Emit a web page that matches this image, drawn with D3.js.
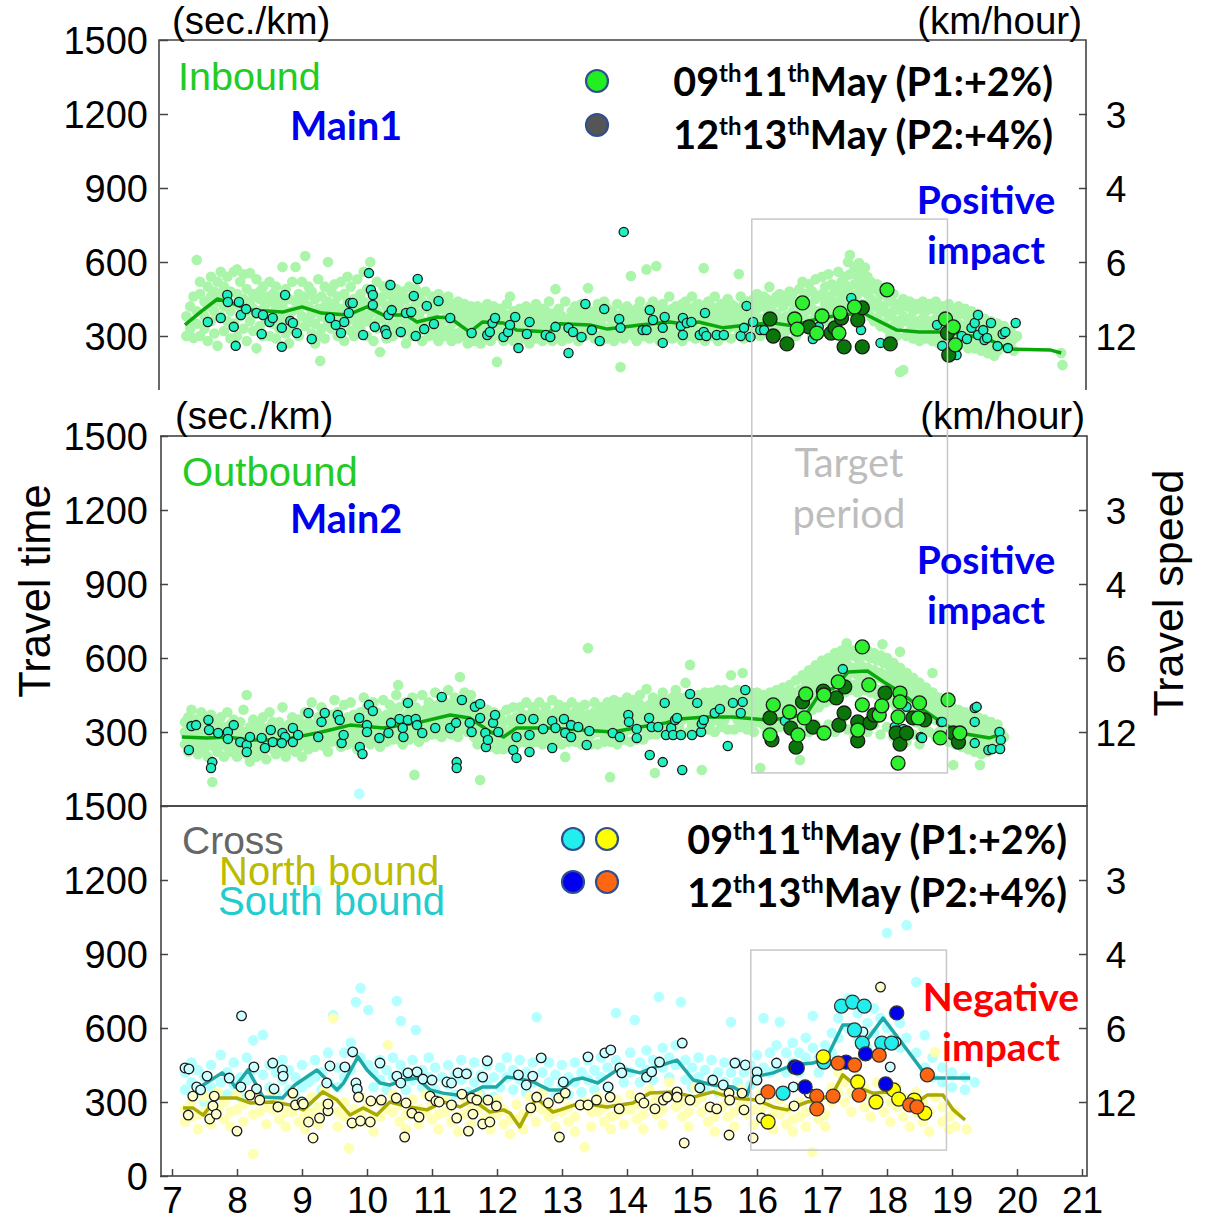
<!DOCTYPE html>
<html><head><meta charset="utf-8">
<script src="https://cdn.jsdelivr.net/npm/d3@7"></script>
<style>body{margin:0;background:#fff}svg{display:block}</style>
</head><body>
<svg id="c" width="1207" height="1222"></svg>
<script>
// ---------- DATA ----------
const hourTicks = [7,8,9,10,11,12,13,14,15,16,17,18,19,20,21];
const travelTimeTicks = [300,600,900,1200,1500];
const speedTicks = [3,4,6,12];           // km/hour  (= 3600 / sec per km)
const targetPeriod = [15.92, 18.93];

// Main1 (Inbound): background cloud [hour, [sec/km ...]]
const inCloud = [
[7.22,[300,380]],[7.28,[420,330]],[7.33,[292,460]],[7.38,[608,400,350]],[7.43,[470,300,520]],[7.5,[440,380,330]],[7.55,[500,280,420]],[7.6,[460,540,360]],[7.65,[310,480,400]],[7.7,[520,440,260]],[7.75,[560,380,470]],[7.8,[420,500,320]],[7.85,[540,360,450]],[7.9,[480,290,400]],[7.95,[560,430,350]],[8.0,[570,470,300]],[8.05,[520,380,420]],[8.1,[450,330,550]],[8.15,[400,490,280]],[8.2,[555,360,440]],[8.25,[470,320,410]],[8.3,[530,390,250]],[8.35,[450,340,480]],[8.4,[410,300,500]],[8.45,[460,370,430]],[8.5,[390,520,300]],[8.55,[440,350,470]],[8.6,[500,410,290]],[8.65,[380,460,330]],[8.7,[580,430,360]],[8.75,[490,310,400]],[8.8,[450,370,270]],[8.85,[520,400,330]],[8.9,[580,440,350]],[8.95,[470,300,410]],[9.0,[520,380,440]],[9.05,[624,460,340]],[9.1,[420,360,500]],[9.15,[480,310,390]],[9.2,[450,350,270]],[9.25,[530,410,300]],[9.28,[199]],[9.3,[460,380,330]],[9.35,[500,420,290]],[9.4,[600,440,360]],[9.45,[480,330,400]],[9.5,[430,370,510]],[9.55,[460,300,390]],[9.6,[520,410,340]],[9.65,[470,280,380]],[9.7,[440,360,540]],[9.75,[500,410,320]],[9.8,[450,380,300]],[9.85,[530,420,350]],[9.9,[470,330,400]],[9.95,[560,440,370]],[10.0,[490,360,300]],[10.05,[600,430,390]],[10.1,[470,350,280]],[10.15,[520,400,330]],[10.2,[440,235,370]],[10.25,[500,380,460]],[10.3,[420,340,290]],[10.35,[470,390,510]],[10.4,[440,350,300]],[10.45,[490,400,330]],[10.5,[430,370,460]],[10.55,[480,310,390]],[10.6,[450,350,270]],[10.65,[500,410,330]],[10.7,[460,380,300]],[10.75,[430,340,490]],[10.8,[470,390,320]],[10.85,[440,360,280]],[10.9,[480,410,330]],[10.95,[420,350,300]],[11.0,[460,380,320]],[11.05,[430,300,400]],[11.1,[470,360,280]],[11.15,[410,330,450]],[11.2,[440,370,300]],[11.25,[400,320,460]],[11.3,[430,350,280]],[11.35,[390,310,420]],[11.4,[440,360,290]],[11.45,[410,320,380]],[11.5,[370,300,430]],[11.55,[400,340,270]],[11.6,[360,300,420]],[11.65,[390,320,280]],[11.7,[350,420,300]],[11.75,[380,330,270]],[11.8,[400,340,290]],[11.85,[360,310,430]],[11.9,[390,330,280]],[11.95,[420,350,300]],[12.0,[195,380,330]],[12.05,[360,300,410]],[12.1,[390,340,280]],[12.15,[430,350,310]],[12.2,[370,300,460]],[12.25,[400,330,280]],[12.3,[380,340,300]],[12.35,[410,310,360]],[12.4,[350,290,390]],[12.45,[380,320,420]],[12.5,[360,300,270]],[12.55,[400,340,310]],[12.6,[370,290,430]],[12.65,[390,330,300]],[12.7,[360,280,410]],[12.75,[400,340,310]],[12.8,[370,300,440]],[12.85,[390,320,280]],[12.9,[360,490,330]],[12.95,[410,300,350]],[13.0,[380,320,280]],[13.05,[440,350,300]],[13.1,[370,330,290]],[13.15,[400,350,310]],[13.2,[360,300,420]],[13.25,[390,340,280]],[13.3,[370,310,430]],[13.35,[400,350,300]],[13.4,[494,380,330]],[13.45,[360,310,400]],[13.5,[390,340,290]],[13.55,[370,300,430]],[13.6,[400,350,280]],[13.65,[380,320,440]],[13.7,[410,330,290]],[13.75,[370,300,400]],[13.8,[390,340,280]],[13.85,[360,310,430]],[13.9,[174,380,330]],[13.95,[400,350,290]],[14.0,[370,310,420]],[14.06,[543,390,330]],[14.1,[360,300,400]],[14.15,[410,340,280]],[14.2,[380,320,440]],[14.25,[400,350,300]],[14.3,[570,370,330]],[14.35,[420,360,290]],[14.4,[390,320,440]],[14.45,[584,360,300]],[14.5,[410,340,280]],[14.55,[380,330,430]],[14.6,[400,350,300]],[14.65,[370,310,460]],[14.7,[410,340,290]],[14.75,[380,320,420]],[14.8,[400,350,300]],[14.85,[430,360,280]],[14.9,[390,320,440]],[14.95,[410,340,300]],[15.0,[380,330,460]],[15.05,[420,360,290]],[15.1,[390,320,430]],[15.18,[575,370,330]],[15.2,[410,340,280]],[15.25,[380,310,440]],[15.3,[420,360,300]],[15.35,[390,330,460]],[15.4,[410,350,280]],[15.45,[380,320,430]],[15.5,[420,360,300]],[15.55,[400,330,450]],[15.6,[430,370,290]],[15.65,[390,340,420]],[15.72,[551,380,310]],[15.75,[410,350,460]],[15.8,[430,370,290]],[15.85,[400,340,440]],[15.9,[420,360,300]],[15.95,[450,380,330]],[16.0,[410,350,470]],[16.05,[440,370,300]],[16.1,[420,360,460]],[16.15,[450,380,320]],[16.19,[499,400,340]],[16.25,[430,370,290]],[16.3,[460,390,330]],[16.35,[440,360,470]],[16.4,[420,350,300]],[16.45,[460,380,320]],[16.5,[440,370,480]],[16.55,[470,400,340]],[16.6,[430,360,300]],[16.65,[490,410,350]],[16.7,[450,380,520]],[16.75,[470,400,330]],[16.8,[510,430,360]],[16.85,[480,410,300]],[16.9,[530,450,380]],[16.95,[460,400,340]],[17.0,[540,470,390]],[17.05,[500,430,360]],[17.1,[550,460,400]],[17.15,[510,440,380]],[17.2,[480,420,340]],[17.25,[560,500,440]],[17.3,[520,460,390]],[17.35,[540,470,410]],[17.4,[600,500,430]],[17.43,[628,550,470]],[17.5,[580,510,440]],[17.55,[540,470,400]],[17.57,[596,520,360]],[17.62,[560,490,430]],[17.66,[578,500,420]],[17.7,[540,470,400]],[17.75,[520,450,380]],[17.8,[490,420,360]],[17.85,[510,440,370]],[17.9,[470,400,340]],[17.95,[490,420,350]],[18.0,[460,390,330]],[18.05,[440,380,300]],[18.1,[470,400,340]],[18.15,[430,360,300]],[18.2,[154,410,350]],[18.25,[162,450,380]],[18.3,[420,360,300]],[18.35,[440,370,320]],[18.4,[400,340,290]],[18.45,[430,360,310]],[18.5,[410,350,280]],[18.55,[440,370,310]],[18.6,[400,330,290]],[18.65,[430,360,300]],[18.7,[410,340,280]],[18.75,[440,370,310]],[18.8,[400,330,270]],[18.85,[420,350,300]],[18.9,[390,330,280]],[18.95,[430,360,300]],[19.0,[400,340,270]],[19.05,[380,320,290]],[19.1,[420,350,260]],[19.15,[390,330,280]],[19.2,[410,340,270]],[19.25,[370,310,250]],[19.3,[400,330,280]],[19.35,[360,300,250]],[19.4,[390,320,270]],[19.45,[350,290,240]],[19.5,[370,310,260]],[19.55,[340,280,230]],[19.6,[360,300,250]],[19.65,[330,270,220]],[19.7,[350,290,240]],[19.75,[320,260]],[19.8,[340,280]],[19.85,[300,250]],[19.9,[320,270]],[19.95,[290,240]],[20.0,[300]],[20.68,[231]],[20.7,[182]]
];
const inBase = [[7.55,357],[7.75,373],[7.85,466],[7.86,438],[7.95,337],[7.98,260],[8.03,438],[8.06,385],[8.14,409],[8.3,393],[8.38,308],[8.4,385],[8.5,357],[8.55,373],[8.69,333],[8.69,256],[8.74,466],[8.82,361],[8.86,353],[8.92,312],[9.15,288],[9.43,373],[9.52,345],[9.6,312],[9.65,357],[9.72,393],[9.74,434],[9.78,434],[9.94,304],[10.03,555],[10.06,487],[10.09,466],[10.09,426],[10.12,337],[10.28,324],[10.3,308],[10.33,385],[10.36,507],[10.38,405],[10.52,316],[10.6,393],[10.68,397],[10.72,462],[10.75,300],[10.78,531],[10.88,328],[10.92,422],[11.03,349],[11.1,442],[11.28,373],[11.61,312],[11.85,304],[11.89,316],[11.93,353],[11.97,373],[12.1,296],[12.17,316],[12.2,345],[12.28,377],[12.33,251],[12.46,308],[12.5,357],[12.75,304],[12.82,296],[12.9,337],[13.1,231],[13.1,333],[13.17,316],[13.3,296],[13.36,430],[13.46,324],[13.58,280],[13.65,409],[13.88,369],[13.9,333],[13.95,722],[14.24,324],[14.3,324],[14.35,405],[14.4,365],[14.55,272],[14.55,333],[14.58,377],[14.83,341],[14.86,373],[14.86,304],[14.92,353],[14.99,357],[15.12,304],[15.18,316],[15.2,393],[15.22,300],[15.38,304],[15.49,304],[15.75,300],[15.8,333],[15.84,422],[15.9,296],[15.94,357],[16.05,324],[16.11,324],[16.86,288],[16.95,337],[17.45,454],[17.6,324],[17.9,272],[18.77,345],[18.85,260],[19.07,223],[19.15,300],[19.23,288],[19.3,333],[19.35,353],[19.4,385],[19.4,304],[19.48,324],[19.5,284],[19.54,292],[19.6,353],[19.7,259],[19.78,308],[19.82,316],[19.86,251],[19.98,353]];
const inP1 = [[16.58,369],[16.62,328],[16.7,434],[16.92,312],[17.0,381],[17.26,312],[17.28,393],[17.5,418],[18.0,487],[18.9,369],[19.02,337],[19.05,264]];
const inP2 = [[16.2,369],[16.25,300],[16.46,268],[16.8,337],[17.14,312],[17.2,333],[17.3,373],[17.34,256],[17.55,365],[17.62,414],[17.62,256],[18.05,268],[18.93,312],[18.95,223]];
const inTrend = [[7.2,345],[7.45,400],[7.7,450],[7.9,435],[8.2,405],[8.7,397],[9.0,418],[9.3,393],[9.7,385],[10.0,418],[10.25,385],[10.6,385],[10.77,357],[11.08,377],[11.28,373],[11.58,316],[11.78,357],[12.1,353],[12.3,324],[12.8,316],[12.97,350],[13.43,345],[13.7,328],[14.2,345],[14.66,357],[14.97,345],[15.1,357],[15.48,333],[15.85,345],[16.25,353],[16.55,341],[16.92,369],[17.28,385],[17.63,393],[18.15,324],[18.5,316],[18.92,316],[19.3,300],[19.58,284],[19.87,247],[20.52,243],[20.68,231]];

// Main2 (Outbound)
const outCloud = [
[7.2,[300,250,340]],[7.25,[280,360,220]],[7.3,[320,260,390]],[7.35,[240,300,350]],[7.4,[330,270,210]],[7.45,[290,380,250]],[7.5,[350,230,310]],[7.55,[270,330,200]],[7.6,[310,260,370]],[7.62,[97]],[7.65,[240,300,350]],[7.7,[330,270,220]],[7.75,[290,360,250]],[7.8,[260,320,200]],[7.85,[300,240,380]],[7.9,[330,270,220]],[7.95,[280,350,250]],[8.0,[310,260,200]],[8.05,[270,340,230]],[8.1,[300,250,390]],[8.15,[450,280,210]],[8.2,[320,260,180]],[8.25,[290,350,230]],[8.3,[260,310,200]],[8.35,[330,270,240]],[8.4,[290,360,220]],[8.45,[250,310,190]],[8.5,[320,270,380]],[8.55,[280,340,230]],[8.6,[300,250,210]],[8.65,[340,280,230]],[8.7,[270,320,400]],[8.75,[300,250,200]],[8.8,[330,270,230]],[8.85,[290,360,240]],[8.9,[310,260,220]],[8.95,[350,290,240]],[9.0,[280,330,200]],[9.05,[310,260,380]],[9.1,[340,290,230]],[9.15,[300,260,420]],[9.2,[330,280,240]],[9.25,[360,300,250]],[9.3,[320,270,400]],[9.35,[350,300,240]],[9.4,[310,270,220]],[9.45,[370,320,260]],[9.5,[340,290,430]],[9.55,[310,260,380]],[9.6,[350,300,240]],[9.65,[320,280,410]],[9.7,[360,310,250]],[9.75,[330,280,420]],[9.8,[370,320,260]],[9.85,[340,290,230]],[9.9,[380,330,270]],[9.95,[350,300,440]],[10.0,[320,270,400]],[10.05,[360,310,250]],[10.1,[340,290,420]],[10.15,[380,330,270]],[10.2,[350,300,240]],[10.25,[320,280,430]],[10.3,[370,320,260]],[10.35,[340,290,410]],[10.4,[380,330,270]],[10.45,[350,300,450]],[10.48,[490]],[10.5,[320,270,400]],[10.55,[360,310,250]],[10.6,[340,290,420]],[10.65,[380,330,270]],[10.7,[350,300,440]],[10.73,[126]],[10.75,[330,280,400]],[10.8,[370,320,260]],[10.85,[350,300,450]],[10.9,[390,340,280]],[10.95,[360,310,420]],[11.0,[400,350,290]],[11.05,[370,320,460]],[11.1,[340,290,410]],[11.15,[390,340,280]],[11.2,[420,360,300]],[11.25,[380,330,470]],[11.3,[410,350,290]],[11.35,[440,380,320]],[11.4,[400,340,280]],[11.43,[523]],[11.45,[430,370,310]],[11.5,[390,330,460]],[11.55,[420,360,300]],[11.6,[380,320,450]],[11.65,[410,350,280]],[11.7,[370,310,250]],[11.74,[105]],[11.75,[340,290,400]],[11.8,[370,310,250]],[11.85,[330,280,390]],[11.9,[360,300,240]],[11.95,[320,270,380]],[12.0,[350,290,230]],[12.05,[310,260,370]],[12.1,[340,290,230]],[12.15,[300,250,390]],[12.2,[350,290,240]],[12.25,[320,270,400]],[12.3,[360,300,250]],[12.35,[330,280,400]],[12.4,[370,310,260]],[12.45,[340,290,420]],[12.5,[370,310,250]],[12.55,[340,290,400]],[12.6,[380,320,260]],[12.65,[350,290,420]],[12.7,[370,310,250]],[12.75,[340,280,400]],[12.8,[370,310,260]],[12.85,[340,290,430]],[12.9,[380,320,260]],[12.95,[350,290,410]],[13.0,[370,310,250]],[13.05,[199,340,400]],[13.1,[370,310,260]],[13.15,[340,290,420]],[13.2,[380,320,260]],[13.25,[350,290,400]],[13.3,[370,310,250]],[13.35,[340,280,410]],[13.4,[640,370]],[13.45,[340,290,250]],[13.5,[380,320,420]],[13.55,[350,300,250]],[13.6,[380,320,400]],[13.65,[350,290,260]],[13.7,[380,330,420]],[13.74,[117]],[13.75,[350,300,260]],[13.8,[390,330,430]],[13.85,[360,300,250]],[13.9,[390,340,420]],[13.95,[360,300,270]],[14.0,[400,340,440]],[14.05,[370,310,260]],[14.1,[400,350,430]],[14.15,[370,320,270]],[14.2,[410,350,450]],[14.25,[380,330,270]],[14.3,[474,360,300]],[14.35,[410,350,290]],[14.4,[440,380,320]],[14.43,[134]],[14.45,[400,350,290]],[14.5,[430,370,310]],[14.55,[400,340,460]],[14.6,[430,370,310]],[14.65,[400,350,290]],[14.7,[440,380,320]],[14.75,[410,350,470]],[14.8,[440,380,320]],[14.85,[410,350,290]],[14.9,[499,440,380]],[14.95,[420,360,300]],[14.97,[572]],[15.0,[450,390,330]],[15.05,[420,360,300]],[15.1,[450,390,330]],[15.15,[146,420,360]],[15.2,[460,400,340]],[15.25,[430,370,310]],[15.3,[460,400,340]],[15.35,[430,370,300]],[15.4,[470,410,350]],[15.45,[440,380,320]],[15.5,[470,410,350]],[15.55,[440,380,310]],[15.6,[530,460,400]],[15.65,[430,370,310]],[15.7,[470,410,350]],[15.75,[440,380,320]],[15.78,[539]],[15.8,[460,400,340]],[15.85,[430,370,310]],[15.9,[460,400,340]],[15.95,[430,370,300]],[16.0,[460,400,340]],[16.05,[154,420,360]],[16.1,[450,390,330]],[16.15,[420,360,300]],[16.2,[460,400,340]],[16.25,[430,370,310]],[16.3,[470,410,350]],[16.35,[440,380,320]],[16.4,[480,420,360]],[16.45,[450,390,330]],[16.5,[490,430,370]],[16.55,[460,400,340]],[16.6,[510,440,380,300]],[16.66,[186,470,400]],[16.7,[530,460,390,320]],[16.75,[500,430,370]],[16.8,[550,480,410,300]],[16.85,[520,450,390]],[16.9,[570,500,430,330]],[16.95,[540,470,400]],[17.0,[590,520,450,290]],[17.05,[560,490,420]],[17.1,[600,530,460,330]],[17.15,[570,500,430]],[17.2,[620,550,480,300]],[17.25,[590,520,450]],[17.3,[630,560,490,350]],[17.35,[600,530,460]],[17.38,[660]],[17.4,[640,570,500,310]],[17.45,[610,540,470]],[17.5,[630,560,490,280]],[17.55,[600,530,460]],[17.6,[640,570,500,340]],[17.65,[610,540,470]],[17.7,[630,560,490,300]],[17.75,[600,530,460]],[17.8,[620,550,480,330]],[17.85,[590,520,450]],[17.9,[610,540,470,290]],[17.93,[656]],[17.95,[580,510,440]],[18.0,[600,530,460,320]],[18.05,[560,490,420]],[18.1,[580,510,440,280]],[18.15,[540,470,400]],[18.2,[625,560,490,300]],[18.25,[520,450,380]],[18.3,[540,470,400,260]],[18.35,[500,430,360]],[18.4,[520,450,380,290]],[18.45,[480,410,340]],[18.5,[500,430,360,250]],[18.55,[460,390,320]],[18.6,[480,410,340]],[18.65,[440,370,300]],[18.7,[539,460,390]],[18.75,[420,350,280]],[18.8,[440,370,300]],[18.85,[400,330,270]],[18.9,[420,350,290]],[18.95,[380,320,260]],[19.0,[400,340,280]],[19.02,[166]],[19.05,[370,310,250]],[19.1,[390,330,270]],[19.15,[360,300,240]],[19.2,[380,320,260]],[19.25,[350,290,230]],[19.3,[370,310,250]],[19.35,[340,280,220]],[19.4,[360,300,240]],[19.43,[166]],[19.45,[330,270,210]],[19.5,[350,290,240]],[19.55,[320,260,220]],[19.6,[340,280,230]],[19.65,[310,260]],[19.7,[330,270]],[19.75,[300,250]],[19.8,[280]]
];
const outBase = [[7.26,227],[7.3,324],[7.37,328],[7.56,349],[7.57,308],[7.62,178],[7.6,154],[7.71,296],[7.86,300],[7.86,272],[7.95,328],[8.05,259],[8.15,247],[8.15,219],[8.2,280],[8.38,276],[8.43,235],[8.52,308],[8.55,259],[8.7,296],[8.74,280],[8.69,255],[8.86,316],[8.86,259],[8.94,288],[9.1,377],[9.25,280],[9.3,341],[9.35,377],[9.55,369],[9.58,349],[9.61,255],[9.64,288],[9.88,357],[9.89,239],[9.93,211],[10.0,328],[10.0,300],[10.03,410],[10.09,385],[10.19,276],[10.33,296],[10.37,337],[10.5,353],[10.55,316],[10.56,280],[10.63,418],[10.63,349],[10.75,353],[10.77,328],[10.85,296],[11.05,316],[11.15,442],[11.28,316],[11.37,337],[11.38,178],[11.38,154],[11.46,430],[11.58,337],[11.61,300],[11.66,402],[11.74,414],[11.74,357],[11.82,296],[11.83,239],[11.86,268],[11.94,337],[11.97,369],[12.02,300],[12.25,227],[12.3,195],[12.3,280],[12.37,353],[12.5,288],[12.5,219],[12.56,353],[12.71,312],[12.85,345],[12.85,235],[12.9,316],[13.03,353],[13.05,296],[13.14,328],[13.14,280],[13.25,320],[13.38,247],[13.42,304],[13.78,296],[13.89,280],[14.02,369],[14.03,341],[14.15,312],[14.15,276],[14.34,357],[14.35,207],[14.38,320],[14.48,320],[14.55,178],[14.58,418],[14.6,288],[14.68,316],[14.71,288],[14.74,349],[14.77,357],[14.83,288],[14.85,146],[14.97,454],[15.0,288],[15.08,418],[15.14,300],[15.15,333],[15.18,349],[15.35,377],[15.43,393],[15.55,243],[15.63,418],[15.75,377],[15.78,422],[15.82,470],[16.43,345],[17.32,555],[18.12,320],[18.25,312],[18.3,402],[18.52,280],[18.54,276],[18.83,341],[18.85,341],[19.35,397],[19.35,341],[19.35,255],[19.38,402],[19.56,227],[19.62,231],[19.73,300],[19.75,268],[19.74,231]];
const outP1 = [[16.2,288],[16.25,410],[16.5,381],[16.63,288],[16.73,357],[16.75,454],[17.03,296],[17.03,450],[17.25,503],[17.55,308],[17.62,645],[17.62,410],[17.72,491],[17.88,369],[17.92,406],[18.17,174],[18.17,361],[18.2,458],[18.2,422],[18.48,357],[18.5,418],[18.82,276],[18.94,430],[19.12,296]];
const outP2 = [[16.2,357],[16.23,268],[16.52,316],[16.6,239],[16.7,422],[16.86,320],[17.02,466],[17.22,438],[17.26,328],[17.34,377],[17.35,483],[17.55,341],[17.55,264],[17.74,337],[17.8,369],[17.97,458],[18.14,296],[18.2,251],[18.3,296],[18.4,357],[18.58,349],[19.02,296],[19.1,259]];
const outTrend = [[7.15,280],[7.54,276],[7.85,280],[8.2,268],[8.7,268],[9.23,296],[9.43,308],[9.74,328],[10.25,316],[10.77,337],[11.28,369],[11.58,357],[11.9,300],[12.1,280],[12.3,316],[12.8,316],[13.3,308],[13.78,300],[14.2,320],[14.6,337],[14.8,353],[15.22,361],[15.63,361],[16.15,349],[16.5,357],[16.77,377],[16.97,458],[17.18,478],[17.4,543],[17.7,547],[17.95,503],[18.2,462],[18.56,389],[18.83,341],[19.12,296],[19.58,276],[19.72,288]];

// Cross (South bound / North bound)
const southCloud = [
[7.2,[420,350]],[7.3,[380,460]],[7.4,[340,430]],[7.5,[400,300]],[7.6,[450,360]],[7.75,[491,380]],[7.85,[420,330]],[7.95,[460,370]],[8.05,[400,320]],[8.15,[480,390]],[8.25,[550,430]],[8.4,[572,410]],[8.5,[360,450]],[8.6,[420,330]],[8.7,[390,470]],[8.8,[350,430]],[8.9,[400,320]],[9.0,[450,360]],[9.1,[380,300]],[9.2,[470,400]],[9.23,[1155]],[9.3,[420,350]],[9.4,[500,380]],[9.48,[652]],[9.55,[440,360]],[9.65,[500,400]],[9.75,[540,430]],[9.83,[705]],[9.88,[1550]],[9.9,[762,480]],[10.02,[673,450]],[10.1,[420,360]],[10.2,[470,390]],[10.3,[430,350]],[10.4,[480,400]],[10.46,[709]],[10.52,[628,450]],[10.6,[420,350]],[10.7,[470,390]],[10.75,[592]],[10.85,[430,360]],[10.95,[480,400]],[11.05,[440,350]],[11.15,[400,320]],[11.25,[450,370]],[11.35,[410,330]],[11.45,[470,390]],[11.55,[420,340]],[11.65,[460,380]],[11.75,[410,330]],[11.85,[450,370]],[11.95,[400,320]],[12.05,[440,360]],[12.15,[480,400]],[12.25,[430,350]],[12.35,[470,390]],[12.45,[420,340]],[12.55,[460,380]],[12.61,[644]],[12.7,[420,340]],[12.8,[460,380]],[12.9,[410,330]],[13.0,[450,370]],[13.1,[400,330]],[13.2,[460,380]],[13.3,[420,340]],[13.4,[470,390]],[13.5,[430,350]],[13.6,[480,400]],[13.7,[440,360]],[13.83,[661,470]],[13.95,[430,380]],[14.05,[500,420]],[14.12,[632]],[14.2,[460,380]],[14.3,[510,430]],[14.4,[470,390]],[14.49,[726]],[14.55,[520,440]],[14.65,[480,400]],[14.75,[530,450]],[14.83,[705]],[14.9,[470,390]],[15.0,[440,360]],[15.1,[480,400]],[15.2,[430,350]],[15.3,[470,390]],[15.4,[420,340]],[15.5,[460,380]],[15.6,[624,420]],[15.7,[460,380]],[15.8,[420,340]],[15.9,[450,370]],[16.0,[490,410]],[16.1,[640,440]],[16.2,[500,420]],[16.3,[530,450]],[16.35,[624]],[16.45,[500,420]],[16.55,[540,460]],[16.65,[500,420]],[16.75,[560,480]],[16.86,[649,520]],[16.95,[480,420]],[17.05,[530,460]],[17.15,[580,500]],[17.25,[640,560]],[17.4,[720,600]],[17.55,[660,560]],[17.63,[584]],[17.7,[620,520]],[17.8,[680,580]],[17.9,[640,540]],[18.0,[985,600]],[18.1,[660,560]],[18.2,[620,520]],[18.3,[1017,560]],[18.45,[786,500]],[18.58,[571,440]],[18.7,[480,400]],[18.85,[440,380]],[19.0,[420,360]],[19.2,[400,350]],[19.35,[380]]
];
const northCloud = [
[7.2,[270,220]],[7.3,[300,240]],[7.4,[250,190]],[7.5,[320,260]],[7.6,[280,210]],[7.7,[340,270]],[7.8,[300,230]],[7.9,[260,200]],[8.0,[330,270]],[8.1,[290,220]],[8.25,[89,250]],[8.35,[320,260]],[8.45,[280,210]],[8.55,[340,270]],[8.65,[300,230]],[8.75,[260,200]],[8.85,[330,260]],[8.95,[290,220]],[9.05,[250,190]],[9.15,[320,260]],[9.25,[280,210]],[9.35,[350,290]],[9.48,[640,310]],[9.55,[260,200]],[9.65,[300,240]],[9.72,[113]],[9.8,[270,210]],[9.9,[320,250]],[10.0,[280,220]],[10.1,[240,180]],[10.2,[300,240]],[10.32,[531,270]],[10.4,[330,260]],[10.5,[290,220]],[10.6,[250,190]],[10.7,[310,250]],[10.8,[270,210]],[10.9,[330,260]],[11.0,[290,230]],[11.1,[250,190]],[11.2,[320,260]],[11.3,[280,220]],[11.4,[240,180]],[11.5,[310,250]],[11.6,[270,210]],[11.7,[330,270]],[11.8,[290,230]],[11.9,[250,190]],[12.0,[310,250]],[12.1,[270,210]],[12.2,[230,170]],[12.3,[290,230]],[12.4,[250,190]],[12.5,[320,260]],[12.6,[280,220]],[12.7,[340,270]],[12.8,[300,240]],[12.9,[260,200]],[13.0,[320,260]],[13.1,[280,220]],[13.2,[240,180]],[13.35,[117,300]],[13.45,[260,200]],[13.55,[320,260]],[13.65,[280,220]],[13.75,[240,190]],[13.85,[310,250]],[13.95,[270,210]],[14.05,[330,270]],[14.15,[290,230]],[14.25,[250,190]],[14.35,[350,290]],[14.45,[310,250]],[14.55,[270,210]],[14.65,[380,320]],[14.75,[340,280]],[14.85,[300,240]],[14.95,[260,200]],[15.05,[360,300]],[15.15,[320,260]],[15.25,[280,220]],[15.35,[240,180]],[15.45,[340,280]],[15.55,[300,240]],[15.65,[260,200]],[15.75,[350,290]],[15.85,[310,250]],[15.95,[270,210]],[16.05,[330,270]],[16.15,[290,230]],[16.25,[250,190]],[16.35,[310,250]],[16.45,[270,210]],[16.55,[230,180]],[16.65,[300,240]],[16.75,[260,200]],[16.85,[97,330]],[16.95,[290,230]],[17.05,[250,200]],[17.15,[360,300]],[17.25,[420,340]],[17.35,[380,300]],[17.45,[340,260]],[17.55,[400,320]],[17.65,[360,280]],[17.75,[320,240]],[17.85,[380,300]],[17.95,[340,260]],[18.05,[300,220]],[18.15,[360,280]],[18.25,[320,240]],[18.35,[280,200]],[18.45,[340,260]],[18.55,[300,220]],[18.65,[260,180]],[18.74,[503,320]],[18.85,[280,220]],[18.95,[240,190]],[19.05,[260,200]],[19.23,[190]]
];
const southBase = [[7.2,438],[7.26,434],[7.38,361],[7.44,349],[7.54,405],[7.88,397],[8.06,361],[8.07,649],[8.26,442],[8.3,353],[8.55,458],[8.57,353],[8.7,430],[8.71,405],[9.38,377],[9.43,446],[9.66,442],[9.78,503],[9.83,377],[9.85,353],[10.2,458],[10.46,405],[10.52,377],[10.63,418],[10.77,422],[10.86,393],[11.0,389],[11.23,381],[11.3,377],[11.4,418],[11.53,414],[11.78,401],[11.85,467],[12.33,410],[12.45,369],[12.55,405],[12.68,479],[13.02,381],[13.4,483],[13.66,499],[13.75,511],[13.71,361],[13.89,438],[13.92,418],[14.3,401],[14.38,422],[14.5,462],[14.85,539],[15.12,357],[15.32,389],[15.48,369],[15.66,458],[15.82,450],[16.0,422],[16.0,389],[16.3,458],[16.56,361],[17.63,584],[18.05,442],[18.14,543]];
const northBase = [[7.25,247],[7.32,324],[7.58,231],[7.63,284],[7.65,324],[7.68,251],[8.0,182],[8.2,328],[8.35,308],[8.63,280],[8.86,336],[8.9,288],[9.0,300],[9.02,292],[9.1,219],[9.17,154],[9.27,235],[9.4,264],[9.4,292],[9.77,215],[9.87,320],[9.9,223],[10.05,219],[10.06,304],[10.22,308],[10.45,316],[10.58,158],[10.6,296],[10.69,255],[10.8,239],[10.97,324],[11.06,304],[11.11,300],[11.3,288],[11.38,235],[11.46,332],[11.56,182],[11.61,316],[11.63,251],[11.69,308],[11.78,211],[11.86,308],[11.89,219],[11.99,284],[12.52,276],[12.61,320],[12.79,296],[12.95,316],[12.96,158],[13.05,336],[13.28,288],[13.4,288],[13.53,308],[13.74,320],[13.88,272],[14.2,316],[14.26,296],[14.43,272],[14.56,308],[14.62,320],[14.77,341],[14.88,134],[14.77,320],[14.97,308],[15.28,280],[15.38,272],[15.57,336],[15.58,308],[15.57,166],[15.77,336],[15.8,268],[15.94,154],[16.05,312],[16.07,235],[16.57,284],[16.8,336],[17.9,766]];
const southP1 = [[16.4,336],[17.03,462],[17.3,689],[17.47,705],[17.65,689],[17.5,592],[17.62,539],[17.92,539],[18.07,539]];
const northP1 = [[16.17,219],[17.02,483],[17.55,381],[17.83,300],[18.1,349],[18.18,312],[18.42,308],[18.58,255]];
const southP2 = [[16.58,442],[16.62,438],[16.74,361],[17.37,462],[17.67,495],[17.98,373],[18.15,661]];
const northP2 = [[16.17,341],[16.92,324],[16.92,272],[17.17,324],[17.25,458],[17.5,450],[17.57,328],[17.88,490],[18.35,288],[18.46,280],[18.62,410]];
const southTrend = [[7.43,361],[7.77,418],[7.9,389],[7.97,361],[8.17,430],[8.4,320],[8.7,316],[8.89,369],[9.23,430],[9.54,349],[9.64,377],[9.86,483],[10.0,430],[10.2,377],[10.35,369],[10.56,389],[10.77,397],[10.97,349],[11.17,336],[11.38,328],[11.58,336],[11.78,361],[11.99,361],[12.15,401],[12.3,397],[12.56,381],[12.8,349],[13.0,349],[13.17,389],[13.32,397],[13.55,377],[13.89,438],[14.2,418],[14.4,438],[14.77,470],[15.02,389],[15.32,369],[15.63,361],[15.85,328],[15.94,401],[16.25,418],[16.55,450],[16.86,458],[17.07,478],[17.32,612],[17.51,612],[17.69,551],[17.94,640],[18.23,539],[18.56,422],[18.71,397],[19.28,397]];
const northTrend = [[7.17,276],[7.32,276],[7.48,247],[7.69,316],[8.0,316],[8.2,296],[8.55,300],[8.82,288],[9.02,268],[9.32,341],[9.54,308],[9.74,247],[9.94,276],[10.15,247],[10.35,300],[10.66,280],[10.92,268],[11.17,300],[11.43,280],[11.63,308],[11.89,259],[12.1,268],[12.2,255],[12.35,199],[12.46,255],[12.61,316],[12.86,259],[12.97,268],[13.28,296],[13.69,280],[14.09,296],[14.35,336],[14.71,341],[15.02,320],[15.32,341],[15.63,316],[16.0,308],[16.25,280],[16.46,268],[16.77,300],[16.97,308],[17.17,336],[17.32,410],[17.54,361],[17.78,336],[18.0,341],[18.2,308],[18.51,308],[18.62,328],[18.86,328],[19.02,268],[19.2,227]];

// ---------- DRAW ----------
const svg = d3.select("#c");
const ARIAL = "'Liberation Sans', Arial, sans-serif";
const CALIBRI = "Lato, 'Open Sans', sans-serif";
const x = d3.scaleLinear().domain([7, 21]).range([172, 1082]);
const X0 = 160, X1 = 1087;
const panels = [
  {y: d3.scaleLinear().domain([0,1500]).range([410,40]),  top:40,  bottom:390, frame:"open"},
  {y: d3.scaleLinear().domain([0,1500]).range([806,436]), top:436, bottom:806, frame:"box"},
  {y: d3.scaleLinear().domain([0,1500]).range([1176,806]),top:806, bottom:1176, frame:"box"}
];
const flat = c => c.flatMap(([h, vs]) => vs.map(v => [h, v]));

function dots(g, y, data, r, fill, stroke, sw) {
  g.append("g").selectAll("circle").data(data).join("circle")
    .attr("cx", d => x(d[0])).attr("cy", d => y(d[1])).attr("r", r)
    .attr("fill", fill).attr("stroke", stroke || "none").attr("stroke-width", sw || 0);
}
function trend(g, y, data, color) {
  g.append("path").datum(data)
    .attr("d", d3.line().x(d => x(d[0])).y(d => y(d[1])))
    .attr("fill", "none").attr("stroke", color).attr("stroke-width", 3.5)
    .attr("stroke-linejoin", "round");
}

panels.forEach((p, i) => {
  const g = svg.append("g");
  const la = g.append("g").attr("transform", `translate(${X0},0)`)
    .call(d3.axisLeft(p.y).tickValues(i === 2 ? [0, ...travelTimeTicks] : travelTimeTicks)
      .tickSize(-8).tickPadding(12).tickFormat(d3.format("d")));
  la.select(".domain").remove();
  la.selectAll("text").attr("font-size", 38).attr("font-family", ARIAL).attr("fill", "#000").attr("dy", "0.36em");
  la.selectAll("line").attr("stroke", "#444").attr("stroke-width", 1.5);
  const ra = g.append("g").attr("transform", `translate(${X1},0)`)
    .call(d3.axisRight(p.y).tickValues(speedTicks.map(s => 3600 / s))
      .tickSize(-8).tickFormat(v => Math.round(3600 / v)));
  ra.select(".domain").remove();
  ra.selectAll("text").attr("font-size", 37).attr("font-family", ARIAL).attr("fill", "#000")
    .attr("text-anchor", "middle").attr("x", 29).attr("dy", "0.36em");
  ra.selectAll("line").attr("stroke", "#444").attr("stroke-width", 1.5);
  if (p.frame === "open") {
    g.append("path").attr("d", `M${X0-1},${p.bottom}V${p.top}H${X1-1}V${p.bottom}`)
      .attr("fill", "none").attr("stroke", "#444").attr("stroke-width", 1.6);
  } else {
    g.append("rect").attr("x", X0 + 1).attr("y", p.top).attr("width", X1 - X0 - 1).attr("height", p.bottom - p.top)
      .attr("fill", "none").attr("stroke", "#444").attr("stroke-width", 1.6);
  }
  p.g = g;
});

const ba = svg.append("g").attr("transform", `translate(0,1176)`)
  .call(d3.axisBottom(x).tickValues(hourTicks).tickSize(-7).tickPadding(11).tickFormat(d3.format("d")));
ba.select(".domain").remove();
ba.selectAll("text").attr("font-size", 37).attr("font-family", ARIAL).attr("fill", "#000");
ba.selectAll("line").attr("stroke", "#444").attr("stroke-width", 1.5);

const [p1, p2, p3] = panels;
svg.append("rect").attr("x", x(targetPeriod[0])).attr("width", x(targetPeriod[1]) - x(targetPeriod[0]))
  .attr("y", p1.y(774)).attr("height", p2.y(134) - p1.y(774))
  .attr("fill", "none").attr("stroke", "#c8c8c8").attr("stroke-width", 1.5);
svg.append("rect").attr("x", x(targetPeriod[0]) - 1).attr("width", x(targetPeriod[1]) - x(targetPeriod[0]))
  .attr("y", p3.y(916)).attr("height", p3.y(105) - p3.y(916))
  .attr("fill", "none").attr("stroke", "#c8c8c8").attr("stroke-width", 1.5);

dots(p1.g, p1.y, flat(inCloud), 5.3, "#abf5ab");
trend(p1.g, p1.y, inTrend, "#0aa80a");
dots(p1.g, p1.y, inBase, 4.6, "#1ff0bf", "#1a1a1a", 1.3);
dots(p1.g, p1.y, inP2, 7, "#0a760a", "#1a1a1a", 1.3);
dots(p1.g, p1.y, inP1, 7, "#2ef02e", "#1a1a1a", 1.3);
dots(p2.g, p2.y, flat(outCloud), 5.3, "#abf5ab");
trend(p2.g, p2.y, outTrend, "#0aa80a");
dots(p2.g, p2.y, outBase, 4.6, "#1ff0bf", "#1a1a1a", 1.3);
dots(p2.g, p2.y, outP2, 7, "#0a760a", "#1a1a1a", 1.3);
dots(p2.g, p2.y, outP1, 7, "#2ef02e", "#1a1a1a", 1.3);
dots(p3.g, p3.y, flat(southCloud), 5.3, "#b4ffff");
dots(p3.g, p3.y, flat(northCloud), 5.3, "#ffffb4");
trend(p3.g, p3.y, southTrend, "#1fa8a8");
trend(p3.g, p3.y, northTrend, "#aaaa00");
dots(p3.g, p3.y, southBase, 4.8, "#ccffff", "#1a1a1a", 1.3);
dots(p3.g, p3.y, northBase, 4.8, "#ffffcc", "#1a1a1a", 1.3);
dots(p3.g, p3.y, southP1, 7, "#22eeee", "#333", 1.3);
dots(p3.g, p3.y, northP1, 7, "#ffff00", "#333", 1.3);
dots(p3.g, p3.y, southP2, 7, "#0000ee", "#333", 1.3);
dots(p3.g, p3.y, northP2, 7, "#ff6611", "#333", 1.3);

// ---------- TEXT ----------
function txt(t, xx, yy, o) {
  return svg.append("text").attr("x", xx).attr("y", yy).text(t)
    .attr("font-family", o.font || ARIAL).attr("font-size", o.size || 38)
    .attr("fill", o.fill || "#000").attr("font-weight", o.weight || "normal")
    .attr("text-anchor", o.anchor || "start");
}
txt("(sec./km)", 172, 34, {size: 38.5});
txt("(km/hour)", 1082, 34, {size: 38.5, anchor: "end"});
txt("(sec./km)", 175, 429, {size: 38.5});
txt("(km/hour)", 1085, 429, {size: 38.5, anchor: "end"});

txt("Inbound", 178, 90, {size: 39.5, fill: "#22cc22"});
txt("Main1", 290, 140, {size: 39.5, fill: "#0000ee", weight: "bold", font: CALIBRI});
txt("Outbound", 182, 486, {size: 40, fill: "#22cc22"});
txt("Main2", 290, 533, {size: 39.5, fill: "#0000ee", weight: "bold", font: CALIBRI});
txt("Cross", 182, 854, {size: 39, fill: "#666666"});
txt("North bound", 219, 885, {size: 40, fill: "#bbbb00"});
txt("South bound", 218, 915, {size: 40, fill: "#22cccc"});

const bold = {font: CALIBRI, weight: "bold", size: 39, anchor: "middle"};
txt("Positive", 986, 214, {...bold, fill: "#0000ee"});
txt("impact", 986, 264, {...bold, fill: "#0000ee"});
txt("Positive", 986, 574, {...bold, fill: "#0000ee"});
txt("impact", 986, 624, {...bold, fill: "#0000ee"});
txt("Negative", 1001, 1011, {...bold, fill: "#ff0000"});
txt("impact", 1001, 1061, {...bold, fill: "#ff0000"});
txt("Target", 849, 477, {font: CALIBRI, size: 40, fill: "#bdbdbd", anchor: "middle"});
txt("period", 849, 528, {font: CALIBRI, size: 40, fill: "#bdbdbd", anchor: "middle"});

function legendText(xEnd, yBase, a, b, rest) {
  const t = svg.append("text").attr("x", xEnd).attr("y", yBase).attr("text-anchor", "end")
    .attr("font-family", CALIBRI).attr("font-weight", "bold").attr("font-size", 39.5).attr("fill", "#000");
  t.append("tspan").text(a);
  t.append("tspan").attr("dy", -14).attr("font-size", 24).text("th");
  t.append("tspan").attr("dy", 14).text(b);
  t.append("tspan").attr("dy", -14).attr("font-size", 24).text("th");
  t.append("tspan").attr("dy", 14).text(rest);
}
legendText(1053, 96, "09", "11", "May (P1:+2%)");
legendText(1053, 149, "12", "13", "May (P2:+4%)");
legendText(1067, 854, "09", "11", "May (P1:+2%)");
legendText(1067, 907, "12", "13", "May (P2:+4%)");
const legendDots = [[597, 81, "#22ee22"], [597, 125, "#555555"], [573, 839, "#22eeee"], [607, 839, "#ffff00"], [573, 882, "#0000ee"], [607, 882, "#ff6611"]];
svg.append("g").selectAll("circle").data(legendDots).join("circle")
  .attr("cx", d => d[0]).attr("cy", d => d[1]).attr("r", 11)
  .attr("fill", d => d[2]).attr("stroke", "#2f4f8f").attr("stroke-width", 2.2);

svg.append("text").attr("transform", "translate(50,591) rotate(-90)").attr("text-anchor", "middle")
  .attr("font-family", ARIAL).attr("font-size", 43.5).text("Travel time");
svg.append("text").attr("transform", "translate(1183,593) rotate(-90)").attr("text-anchor", "middle")
  .attr("font-family", ARIAL).attr("font-size", 43).text("Travel speed");
</script>
</body></html>
